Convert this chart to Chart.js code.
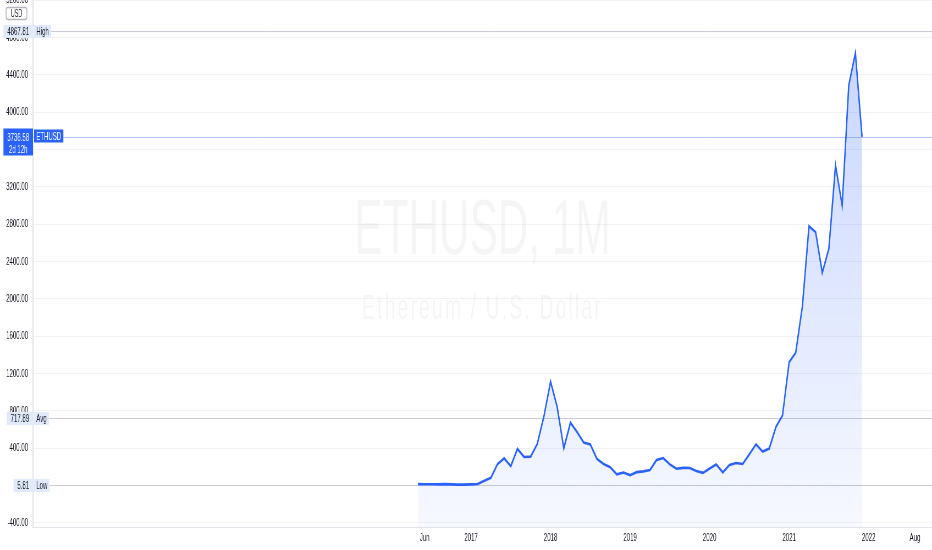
<!DOCTYPE html>
<html>
<head>
<meta charset="utf-8">
<script src="https://cdn.jsdelivr.net/npm/chart.js@4.4.1/dist/chart.umd.min.js"></script>
<style>
html, body { margin: 0; padding: 0; overflow: hidden; background: #fff; width: 932px; height: 550px; }
/* the reference is a horizontally squeezed screenshot, so the chart is drawn wide and squeezed back */
#wrap { position: absolute; left: 0; top: 0; width: 1695px; height: 550px; transform: scale(0.549852, 1); transform-origin: 0 0; }
</style>
</head>
<body>
<div id="wrap"><canvas id="eth-chart"></canvas></div>
<script>
var months = [
    '2016-05', '2016-06', '2016-07', '2016-08', '2016-09', '2016-10', '2016-11', '2016-12',
    '2017-01', '2017-02', '2017-03', '2017-04', '2017-05', '2017-06', '2017-07', '2017-08', '2017-09', '2017-10', '2017-11', '2017-12',
    '2018-01', '2018-02', '2018-03', '2018-04', '2018-05', '2018-06', '2018-07', '2018-08', '2018-09', '2018-10', '2018-11', '2018-12',
    '2019-01', '2019-02', '2019-03', '2019-04', '2019-05', '2019-06', '2019-07', '2019-08', '2019-09', '2019-10', '2019-11', '2019-12',
    '2020-01', '2020-02', '2020-03', '2020-04', '2020-05', '2020-06', '2020-07', '2020-08', '2020-09', '2020-10', '2020-11', '2020-12',
    '2021-01', '2021-02', '2021-03', '2021-04', '2021-05', '2021-06', '2021-07', '2021-08', '2021-09', '2021-10', '2021-11', '2021-12'
];
var closes = [
    14.0, 12.4, 11.8, 11.5, 13.2, 11.0, 8.6, 8.0,
    10.7, 15.8, 50, 82, 230, 290, 205, 392, 305, 308, 445, 740,
    1113, 840, 398, 673, 572, 460, 440, 284, 230, 196, 118, 138,
    110, 142, 150, 166, 272, 293, 225, 178, 188, 186, 155, 134,
    182, 224, 140, 220, 240, 230, 335, 440, 362, 395, 625, 750,
    1320, 1425, 1920, 2778, 2716, 2280, 2540, 3433, 3003, 4290, 4635, 3736.58
];
// time axis: bar index of each label
var timeTickIndex = [1, 8, 20, 32, 44, 56, 68, 75];
var timeTickLabels = ['Jun', '2017', '2018', '2019', '2020', '2021', '2022', 'Aug'];
var priceTicks = [-400, 0, 400, 800, 1200, 1600, 2000, 2400, 2800, 3200, 3600, 4000, 4400, 4800, 5200];
var statNames = ['High', 'Avg', 'Low'];
var statValues = [4867.81, 717.89, 5.81];
var lastPrice = 3736.58;
var symbol = 'ETHUSD';
var countdown = '2d 12h';
var currency = 'USD';
var title = 'ETHUSD, 1M';
var subtitle = 'Ethereum / U.S. Dollar';

var FONT = '"Liberation Sans", Arial, sans-serif';
var TEXT = '#131722';
var BLUE = '#2962ff';
var TAG_BG = '#e1eafb';

var levels = {
    id: 'levels',
    beforeDatasetsDraw: function (chart) {
        var ctx = chart.ctx, a = chart.chartArea, y = chart.scales.y;
        var cx = (a.left + a.right) / 2;
        ctx.save();
        // watermark
        ctx.fillStyle = 'rgba(19,23,34,0.045)';
        ctx.textAlign = 'center';
        ctx.textBaseline = 'alphabetic';
        ctx.font = '77px ' + FONT;
        ctx.fillText(title, cx, a.top + 254);
        ctx.font = '35px ' + FONT;
        ctx.letterSpacing = '4px';
        ctx.fillText(subtitle, cx, a.top + 319);
        ctx.letterSpacing = '0px';
        // high / avg / low lines
        ctx.font = '11px ' + FONT;
        ctx.lineWidth = 1;
        ctx.strokeStyle = '#c9ccd4';
        statValues.forEach(function (v, k) {
            var py = Math.round(y.getPixelForValue(v)) + 0.5;
            var tw = ctx.measureText(statNames[k]).width + 8;
            ctx.beginPath();
            ctx.moveTo(a.left + 2 + tw, py);
            ctx.lineTo(a.right, py);
            ctx.stroke();
        });
        // last price line
        var pp = Math.round(y.getPixelForValue(lastPrice)) + 0.5;
        ctx.strokeStyle = '#b4c3f6';
        ctx.beginPath();
        ctx.moveTo(a.left, pp);
        ctx.lineTo(a.right, pp);
        ctx.stroke();
        ctx.restore();
    },
    afterDraw: function (chart) {
        var ctx = chart.ctx, a = chart.chartArea, y = chart.scales.y;
        ctx.save();
        ctx.font = '11px ' + FONT;
        ctx.textBaseline = 'middle';
        statValues.forEach(function (v, k) {
            var py = Math.round(y.getPixelForValue(v)) + 0.5;
            var vt = v.toFixed(2);
            var w = ctx.measureText(vt).width + 14;
            ctx.fillStyle = TAG_BG;
            ctx.fillRect(a.left - w, py - 6.5, w, 13);
            ctx.fillStyle = TEXT;
            ctx.textAlign = 'right';
            ctx.fillText(vt, a.left - 7, py + 0.5);
            var tw = ctx.measureText(statNames[k]).width + 8;
            ctx.fillStyle = TAG_BG;
            ctx.fillRect(a.left + 2, py - 6.5, tw, 13);
            ctx.fillStyle = TEXT;
            ctx.textAlign = 'left';
            ctx.fillText(statNames[k], a.left + 6, py + 0.5);
        });
        // last price box with countdown, and symbol tag
        var pp = Math.round(y.getPixelForValue(lastPrice)) + 0.5;
        var lt = lastPrice.toFixed(2);
        var lw = ctx.measureText(lt).width + 14;
        ctx.fillStyle = BLUE;
        ctx.fillRect(a.left - lw, pp - 9, lw, 27);
        ctx.fillStyle = '#fff';
        ctx.textAlign = 'right';
        ctx.fillText(lt, a.left - 7, pp + 0.5);
        ctx.textAlign = 'center';
        ctx.fillText(countdown, a.left - lw / 2, pp + 12.5);
        var sw = ctx.measureText(symbol).width + 8;
        ctx.fillStyle = BLUE;
        ctx.fillRect(a.left + 2, pp - 8, sw, 13);
        ctx.fillStyle = '#fff';
        ctx.textAlign = 'left';
        ctx.fillText(symbol, a.left + 6, pp - 1);
        // currency badge
        ctx.strokeStyle = '#b2b5be';
        ctx.lineWidth = 1.5;
        ctx.fillStyle = '#fff';
        ctx.beginPath();
        ctx.roundRect(11, 7.5, 38, 12, 3);
        ctx.fill();
        ctx.stroke();
        ctx.font = '10px ' + FONT;
        ctx.fillStyle = TEXT;
        ctx.textAlign = 'center';
        ctx.fillText(currency, 30, 14);
        ctx.restore();
    }
};

var ctx = document.getElementById('eth-chart');
var chart = new Chart(ctx, {
    type: 'line',
    data: {
        datasets: [{
            label: symbol,
            data: closes.map(function (c, i) { return { x: i, y: c }; }),
            borderColor: BLUE,
            borderWidth: 2.6,
            pointRadius: 0,
            tension: 0,
            fill: 'start',
            backgroundColor: function (context) {
                var a = context.chart.chartArea;
                if (!a) return 'rgba(41,98,255,0.15)';
                var g = context.chart.ctx.createLinearGradient(0, a.top, 0, a.bottom);
                g.addColorStop(0, 'rgba(41,98,255,0.28)');
                g.addColorStop(1, 'rgba(41,98,255,0.04)');
                return g;
            }
        }]
    },
    options: {
        responsive: true,
        maintainAspectRatio: false,
        animation: false,
        layout: { padding: 0, autoPadding: false },
        plugins: { legend: { display: false }, tooltip: { enabled: false } },
        scales: {
            x: {
                type: 'linear',
                min: -58.1,
                max: 77.56,
                afterBuildTicks: function (scale) {
                    scale.ticks = timeTickIndex.map(function (v) { return { value: v }; });
                },
                afterFit: function (scale) {
                    scale.height = 23;
                    scale.paddingLeft = 0;
                    scale.paddingRight = 0;
                },
                grid: { display: false, drawTicks: false },
                border: { display: true, color: '#e0e3eb', width: 1 },
                ticks: {
                    autoSkip: false,
                    maxRotation: 0,
                    padding: 4,
                    color: TEXT,
                    font: { family: FONT, size: 11 },
                    callback: function (value) {
                        var k = timeTickIndex.indexOf(value);
                        return k >= 0 ? timeTickLabels[k] : '';
                    }
                }
            },
            y: {
                position: 'left',
                min: -446,
                max: 5204,
                afterBuildTicks: function (scale) {
                    scale.ticks = priceTicks.map(function (v) { return { value: v }; });
                },
                afterFit: function (scale) {
                    scale.width = 60;
                    scale.paddingTop = 0;
                    scale.paddingBottom = 0;
                },
                grid: { color: '#f0f2f6', drawTicks: false },
                border: { display: true, color: '#e0e3eb', width: 2 },
                ticks: {
                    autoSkip: false,
                    padding: 9,
                    color: TEXT,
                    font: { family: FONT, size: 11 },
                    callback: function (value) { return Number(value).toFixed(2); }
                }
            }
        }
    },
    plugins: [levels]
});
</script>
</body>
</html>
